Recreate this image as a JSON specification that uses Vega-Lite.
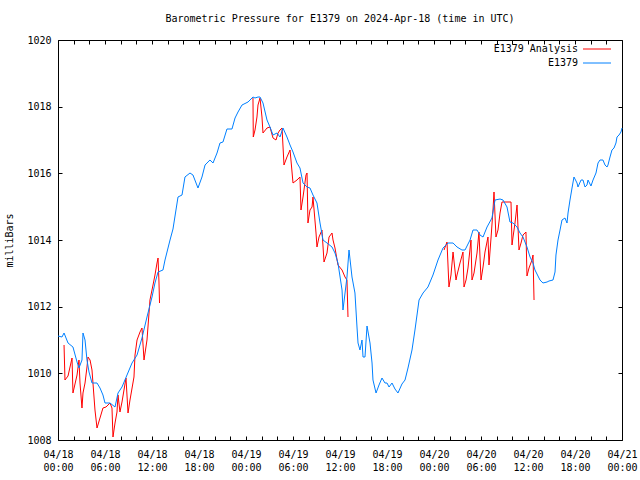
{
  "$schema": "https://vega.github.io/schema/vega-lite/v6.json",
  "width": 564,
  "height": 400,
  "autosize": {"type": "none"},
  "padding": {"left": 58, "top": 40, "right": 18, "bottom": 40},
  "title": {"text": "Barometric Pressure for E1379 on 2024-Apr-18 (time in UTC)", "font": "DejaVu Sans Mono", "fontSize": 10, "fontWeight": "normal", "anchor": "middle", "frame": "group", "offset": 11, "color": "black"},
  "config": {
    "view": {"stroke": "black", "strokeWidth": 1},
    "font": "DejaVu Sans Mono",
    "axis": {"labelFont": "DejaVu Sans Mono", "labelFontSize": 10, "labelColor": "black", "titleFont": "DejaVu Sans Mono", "titleFontSize": 10, "titleFontWeight": "normal", "titleColor": "black", "grid": false, "domain": false, "tickColor": "black", "tickWidth": 1, "tickSize": -4, "labelFlush": false}
  },
  "datasets": {
    "obs": [
      {"t":0,"p":1011.12,"series":"E1379"},{"t":0.51,"p":1011.09,"series":"E1379"},{"t":0.77,"p":1011.21,"series":"E1379"},{"t":1.28,"p":1010.91,"series":"E1379"},{"t":1.91,"p":1010.79,"series":"E1379"},{"t":2.43,"p":1010.34,"series":"E1379"},{"t":2.68,"p":1010.16,"series":"E1379"},{"t":3.06,"p":1010.40,"series":"E1379"},{"t":3.19,"p":1011.21,"series":"E1379"},{"t":3.45,"p":1011.00,"series":"E1379"},{"t":3.70,"p":1010.40,"series":"E1379"},{"t":3.96,"p":1010.04,"series":"E1379"},{"t":4.34,"p":1009.71,"series":"E1379"},{"t":4.98,"p":1009.71,"series":"E1379"},{"t":5.36,"p":1009.56,"series":"E1379"},{"t":5.74,"p":1009.35,"series":"E1379"},{"t":6.00,"p":1009.11,"series":"E1379"},{"t":6.64,"p":1009.11,"series":"E1379"},{"t":7.28,"p":1008.99,"series":"E1379"},{"t":7.66,"p":1009.41,"series":"E1379"},{"t":8.17,"p":1009.59,"series":"E1379"},{"t":8.81,"p":1009.95,"series":"E1379"},{"t":9.45,"p":1010.31,"series":"E1379"},{"t":10.09,"p":1010.55,"series":"E1379"},{"t":10.72,"p":1011.06,"series":"E1379"},{"t":11.36,"p":1011.69,"series":"E1379"},{"t":12.00,"p":1012.29,"series":"E1379"},{"t":12.38,"p":1012.71,"series":"E1379"},{"t":12.77,"p":1013.04,"series":"E1379"},{"t":13.40,"p":1013.10,"series":"E1379"},{"t":13.66,"p":1013.40,"series":"E1379"},{"t":14.30,"p":1014.00,"series":"E1379"},{"t":14.68,"p":1014.33,"series":"E1379"},{"t":15.32,"p":1015.29,"series":"E1379"},{"t":15.83,"p":1015.35,"series":"E1379"},{"t":16.21,"p":1015.89,"series":"E1379"},{"t":16.85,"p":1016.01,"series":"E1379"},{"t":17.23,"p":1015.95,"series":"E1379"},{"t":17.87,"p":1015.56,"series":"E1379"},{"t":18.38,"p":1015.89,"series":"E1379"},{"t":18.77,"p":1016.25,"series":"E1379"},{"t":19.40,"p":1016.40,"series":"E1379"},{"t":19.79,"p":1016.31,"series":"E1379"},{"t":20.30,"p":1016.61,"series":"E1379"},{"t":20.68,"p":1016.91,"series":"E1379"},{"t":21.06,"p":1016.94,"series":"E1379"},{"t":21.57,"p":1017.33,"series":"E1379"},{"t":22.21,"p":1017.33,"series":"E1379"},{"t":22.60,"p":1017.66,"series":"E1379"},{"t":22.98,"p":1017.84,"series":"E1379"},{"t":23.49,"p":1018.05,"series":"E1379"},{"t":24.26,"p":1018.14,"series":"E1379"},{"t":24.89,"p":1018.29,"series":"E1379"},{"t":25.15,"p":1018.26,"series":"E1379"},{"t":25.53,"p":1018.29,"series":"E1379"},{"t":25.79,"p":1018.29,"series":"E1379"},{"t":26.17,"p":1018.11,"series":"E1379"},{"t":26.68,"p":1017.60,"series":"E1379"},{"t":27.06,"p":1017.39,"series":"E1379"},{"t":27.45,"p":1017.15,"series":"E1379"},{"t":27.96,"p":1017.21,"series":"E1379"},{"t":28.34,"p":1017.09,"series":"E1379"},{"t":28.72,"p":1017.36,"series":"E1379"},{"t":29.23,"p":1017.09,"series":"E1379"},{"t":29.62,"p":1016.85,"series":"E1379"},{"t":30.00,"p":1016.64,"series":"E1379"},{"t":30.51,"p":1016.31,"series":"E1379"},{"t":30.89,"p":1016.16,"series":"E1379"},{"t":31.28,"p":1015.71,"series":"E1379"},{"t":31.79,"p":1015.59,"series":"E1379"},{"t":32.17,"p":1015.56,"series":"E1379"},{"t":32.55,"p":1015.35,"series":"E1379"},{"t":33.06,"p":1015.11,"series":"E1379"},{"t":33.45,"p":1014.51,"series":"E1379"},{"t":33.83,"p":1014.00,"series":"E1379"},{"t":34.34,"p":1013.91,"series":"E1379"},{"t":34.98,"p":1013.79,"series":"E1379"},{"t":35.36,"p":1013.61,"series":"E1379"},{"t":35.74,"p":1013.31,"series":"E1379"},{"t":36.26,"p":1012.50,"series":"E1379"},{"t":36.38,"p":1011.90,"series":"E1379"},{"t":36.89,"p":1012.89,"series":"E1379"},{"t":37.15,"p":1013.70,"series":"E1379"},{"t":37.53,"p":1012.89,"series":"E1379"},{"t":37.91,"p":1012.41,"series":"E1379"},{"t":38.17,"p":1011.39,"series":"E1379"},{"t":38.30,"p":1010.91,"series":"E1379"},{"t":38.55,"p":1010.70,"series":"E1379"},{"t":38.81,"p":1011.00,"series":"E1379"},{"t":38.94,"p":1010.49,"series":"E1379"},{"t":39.19,"p":1010.49,"series":"E1379"},{"t":39.45,"p":1011.42,"series":"E1379"},{"t":39.83,"p":1010.91,"series":"E1379"},{"t":40.09,"p":1010.31,"series":"E1379"},{"t":40.21,"p":1009.80,"series":"E1379"},{"t":40.60,"p":1009.41,"series":"E1379"},{"t":40.98,"p":1009.65,"series":"E1379"},{"t":41.36,"p":1009.86,"series":"E1379"},{"t":41.74,"p":1009.71,"series":"E1379"},{"t":42.00,"p":1009.71,"series":"E1379"},{"t":42.26,"p":1009.59,"series":"E1379"},{"t":42.64,"p":1009.71,"series":"E1379"},{"t":43.02,"p":1009.53,"series":"E1379"},{"t":43.40,"p":1009.41,"series":"E1379"},{"t":43.91,"p":1009.68,"series":"E1379"},{"t":44.30,"p":1009.80,"series":"E1379"},{"t":44.68,"p":1010.16,"series":"E1379"},{"t":45.19,"p":1010.70,"series":"E1379"},{"t":45.57,"p":1011.30,"series":"E1379"},{"t":45.83,"p":1011.75,"series":"E1379"},{"t":46.09,"p":1012.20,"series":"E1379"},{"t":46.60,"p":1012.41,"series":"E1379"},{"t":47.23,"p":1012.59,"series":"E1379"},{"t":47.87,"p":1012.95,"series":"E1379"},{"t":48.51,"p":1013.40,"series":"E1379"},{"t":49.15,"p":1013.76,"series":"E1379"},{"t":49.79,"p":1013.91,"series":"E1379"},{"t":50.43,"p":1013.91,"series":"E1379"},{"t":50.94,"p":1013.79,"series":"E1379"},{"t":51.57,"p":1013.70,"series":"E1379"},{"t":51.96,"p":1013.70,"series":"E1379"},{"t":52.60,"p":1014.00,"series":"E1379"},{"t":52.98,"p":1014.30,"series":"E1379"},{"t":53.49,"p":1014.30,"series":"E1379"},{"t":53.87,"p":1014.15,"series":"E1379"},{"t":54.26,"p":1014.09,"series":"E1379"},{"t":54.77,"p":1014.39,"series":"E1379"},{"t":55.40,"p":1014.66,"series":"E1379"},{"t":55.79,"p":1015.20,"series":"E1379"},{"t":56.43,"p":1015.23,"series":"E1379"},{"t":56.81,"p":1015.20,"series":"E1379"},{"t":57.32,"p":1014.99,"series":"E1379"},{"t":57.70,"p":1014.54,"series":"E1379"},{"t":58.09,"p":1014.51,"series":"E1379"},{"t":58.60,"p":1014.39,"series":"E1379"},{"t":58.98,"p":1014.21,"series":"E1379"},{"t":59.36,"p":1014.09,"series":"E1379"},{"t":59.87,"p":1013.79,"series":"E1379"},{"t":60.26,"p":1013.49,"series":"E1379"},{"t":60.64,"p":1013.31,"series":"E1379"},{"t":60.89,"p":1013.10,"series":"E1379"},{"t":61.53,"p":1012.80,"series":"E1379"},{"t":61.91,"p":1012.71,"series":"E1379"},{"t":62.43,"p":1012.74,"series":"E1379"},{"t":62.68,"p":1012.77,"series":"E1379"},{"t":63.19,"p":1012.80,"series":"E1379"},{"t":63.45,"p":1013.04,"series":"E1379"},{"t":63.57,"p":1013.55,"series":"E1379"},{"t":63.83,"p":1014.00,"series":"E1379"},{"t":64.09,"p":1014.30,"series":"E1379"},{"t":64.34,"p":1014.60,"series":"E1379"},{"t":64.72,"p":1014.66,"series":"E1379"},{"t":64.98,"p":1014.51,"series":"E1379"},{"t":65.11,"p":1014.81,"series":"E1379"},{"t":65.36,"p":1015.20,"series":"E1379"},{"t":65.62,"p":1015.56,"series":"E1379"},{"t":65.87,"p":1015.89,"series":"E1379"},{"t":66.26,"p":1015.71,"series":"E1379"},{"t":66.38,"p":1015.59,"series":"E1379"},{"t":66.77,"p":1015.80,"series":"E1379"},{"t":67.02,"p":1015.80,"series":"E1379"},{"t":67.28,"p":1015.59,"series":"E1379"},{"t":67.53,"p":1015.65,"series":"E1379"},{"t":67.66,"p":1015.80,"series":"E1379"},{"t":68.04,"p":1015.62,"series":"E1379"},{"t":68.30,"p":1015.80,"series":"E1379"},{"t":68.68,"p":1016.01,"series":"E1379"},{"t":68.94,"p":1016.31,"series":"E1379"},{"t":69.19,"p":1016.40,"series":"E1379"},{"t":69.57,"p":1016.40,"series":"E1379"},{"t":69.83,"p":1016.25,"series":"E1379"},{"t":70.09,"p":1016.19,"series":"E1379"},{"t":70.21,"p":1016.25,"series":"E1379"},{"t":70.47,"p":1016.49,"series":"E1379"},{"t":70.72,"p":1016.70,"series":"E1379"},{"t":70.98,"p":1016.76,"series":"E1379"},{"t":71.23,"p":1016.91,"series":"E1379"},{"t":71.36,"p":1017.09,"series":"E1379"},{"t":71.62,"p":1017.15,"series":"E1379"},{"t":71.87,"p":1017.24,"series":"E1379"},{"t":72.0,"p":1017.36,"series":"E1379"}
    ],
    "ana": [
      {"t":0.77,"p":1010.85,"seg":1},{"t":0.89,"p":1009.80,"seg":1},{"t":1.28,"p":1009.92,"seg":1},{"t":1.79,"p":1010.46,"seg":1},{"t":1.91,"p":1009.41,"seg":1},{"t":2.43,"p":1009.95,"seg":1},{"t":2.68,"p":1010.40,"seg":1},{"t":2.81,"p":1009.71,"seg":1},{"t":3.06,"p":1008.96,"seg":1},{"t":3.19,"p":1009.41,"seg":1},{"t":3.45,"p":1009.71,"seg":1},{"t":3.70,"p":1010.19,"seg":1},{"t":3.83,"p":1010.49,"seg":1},{"t":4.09,"p":1010.40,"seg":1},{"t":4.34,"p":1010.10,"seg":1},{"t":4.72,"p":1008.90,"seg":1},{"t":4.98,"p":1008.36,"seg":1},{"t":5.36,"p":1008.66,"seg":1},{"t":5.74,"p":1008.96,"seg":1},{"t":6.13,"p":1008.99,"seg":1},{"t":6.64,"p":1009.11,"seg":1},{"t":6.89,"p":1008.96,"seg":1},{"t":7.02,"p":1008.09,"seg":1},{"t":7.28,"p":1008.51,"seg":1},{"t":7.53,"p":1008.84,"seg":1},{"t":7.66,"p":1009.35,"seg":1},{"t":7.91,"p":1008.84,"seg":1},{"t":8.17,"p":1009.14,"seg":1},{"t":8.68,"p":1009.86,"seg":1},{"t":8.94,"p":1008.81,"seg":1},{"t":9.19,"p":1009.20,"seg":1},{"t":9.70,"p":1009.89,"seg":1},{"t":9.83,"p":1010.55,"seg":1},{"t":10.09,"p":1011.00,"seg":1},{"t":10.47,"p":1011.24,"seg":1},{"t":10.72,"p":1011.36,"seg":1},{"t":10.98,"p":1010.40,"seg":1},{"t":11.36,"p":1011.00,"seg":1},{"t":11.62,"p":1011.81,"seg":1},{"t":11.74,"p":1012.20,"seg":1},{"t":12.13,"p":1012.65,"seg":1},{"t":12.38,"p":1012.95,"seg":1},{"t":12.64,"p":1013.31,"seg":1},{"t":12.77,"p":1013.46,"seg":1},{"t":12.89,"p":1012.74,"seg":1},{"t":12.96,"p":1012.11,"seg":1},
      {"t":24.89,"p":1018.26,"seg":2},{"t":24.93,"p":1017.09,"seg":2},{"t":25.15,"p":1017.30,"seg":2},{"t":25.40,"p":1017.69,"seg":2},{"t":25.53,"p":1018.05,"seg":2},{"t":25.79,"p":1018.26,"seg":2},{"t":26.04,"p":1017.69,"seg":2},{"t":26.17,"p":1017.21,"seg":2},{"t":26.68,"p":1017.36,"seg":2},{"t":27.06,"p":1017.39,"seg":2},{"t":27.45,"p":1017.06,"seg":2},{"t":27.83,"p":1017.00,"seg":2},{"t":28.09,"p":1017.21,"seg":2},{"t":28.34,"p":1017.30,"seg":2},{"t":28.60,"p":1017.36,"seg":2},{"t":28.85,"p":1016.25,"seg":2},{"t":29.23,"p":1016.49,"seg":2},{"t":29.62,"p":1016.70,"seg":2},{"t":29.74,"p":1016.40,"seg":2},{"t":30.00,"p":1015.71,"seg":2},{"t":30.51,"p":1015.80,"seg":2},{"t":30.89,"p":1015.89,"seg":2},{"t":31.02,"p":1014.90,"seg":2},{"t":31.28,"p":1015.29,"seg":2},{"t":31.66,"p":1015.95,"seg":2},{"t":31.79,"p":1016.01,"seg":2},{"t":31.91,"p":1014.51,"seg":2},{"t":32.17,"p":1014.90,"seg":2},{"t":32.43,"p":1014.99,"seg":2},{"t":32.55,"p":1015.29,"seg":2},{"t":32.94,"p":1014.21,"seg":2},{"t":33.06,"p":1013.79,"seg":2},{"t":33.32,"p":1014.09,"seg":2},{"t":33.70,"p":1014.30,"seg":2},{"t":33.96,"p":1013.34,"seg":2},{"t":34.34,"p":1013.61,"seg":2},{"t":34.60,"p":1014.09,"seg":2},{"t":34.98,"p":1014.21,"seg":2},{"t":35.11,"p":1014.00,"seg":2},{"t":35.36,"p":1013.76,"seg":2},{"t":35.74,"p":1013.25,"seg":2},{"t":36.26,"p":1013.10,"seg":2},{"t":36.64,"p":1012.89,"seg":2},{"t":36.89,"p":1012.80,"seg":2},{"t":37.02,"p":1011.69,"seg":2},
      {"t":49.28,"p":1013.70,"seg":3},{"t":49.66,"p":1013.94,"seg":3},{"t":49.91,"p":1012.59,"seg":3},{"t":50.17,"p":1012.95,"seg":3},{"t":50.43,"p":1013.64,"seg":3},{"t":50.81,"p":1012.80,"seg":3},{"t":50.94,"p":1012.95,"seg":3},{"t":51.32,"p":1013.31,"seg":3},{"t":51.70,"p":1013.64,"seg":3},{"t":51.83,"p":1012.59,"seg":3},{"t":52.09,"p":1012.80,"seg":3},{"t":52.34,"p":1013.16,"seg":3},{"t":52.72,"p":1014.00,"seg":3},{"t":52.85,"p":1012.80,"seg":3},{"t":53.11,"p":1013.01,"seg":3},{"t":53.49,"p":1013.61,"seg":3},{"t":53.74,"p":1014.24,"seg":3},{"t":54.00,"p":1012.80,"seg":3},{"t":54.26,"p":1013.19,"seg":3},{"t":54.51,"p":1013.64,"seg":3},{"t":54.89,"p":1014.09,"seg":3},{"t":55.02,"p":1013.25,"seg":3},{"t":55.28,"p":1014.06,"seg":3},{"t":55.53,"p":1014.90,"seg":3},{"t":55.66,"p":1015.44,"seg":3},{"t":55.91,"p":1014.09,"seg":3},{"t":56.17,"p":1014.30,"seg":3},{"t":56.43,"p":1014.81,"seg":3},{"t":56.68,"p":1015.14,"seg":3},{"t":57.19,"p":1015.14,"seg":3},{"t":57.83,"p":1015.14,"seg":3},{"t":57.96,"p":1013.85,"seg":3},{"t":58.09,"p":1014.09,"seg":3},{"t":58.34,"p":1014.51,"seg":3},{"t":58.60,"p":1015.05,"seg":3},{"t":58.85,"p":1013.70,"seg":3},{"t":59.11,"p":1013.91,"seg":3},{"t":59.36,"p":1014.15,"seg":3},{"t":59.74,"p":1014.24,"seg":3},{"t":59.87,"p":1012.92,"seg":3},{"t":60.13,"p":1013.16,"seg":3},{"t":60.51,"p":1013.40,"seg":3},{"t":60.64,"p":1013.55,"seg":3},{"t":60.77,"p":1012.20,"seg":3}
    ]
  },
  "resolve": {"axis": {"x": "independent", "y": "independent"}},
  "layer": [
    {
      "data": {"name": "ana"},
      "transform": [{"calculate": "'E1379 Analysis'", "as": "series"}],
      "mark": {"type": "line", "strokeWidth": 1, "interpolate": "linear"},
      "encoding": {
        "x": {"field": "t", "type": "quantitative", "scale": {"domain": [0, 72], "nice": false, "zero": false},
              "axis": {"orient": "top", "values": [0,2,4,6,8,10,12,14,16,18,20,22,24,26,28,30,32,34,36,38,40,42,44,46,48,50,52,54,56,58,60,62,64,66,68,70,72], "labels": false, "title": null}},
        "y": {"field": "p", "type": "quantitative", "scale": {"domain": [1008, 1020], "nice": false, "zero": false},
              "axis": {"orient": "right", "values": [1008,1010,1012,1014,1016,1018,1020], "labels": false, "title": null}},
        "color": {"field": "series", "type": "nominal", "sort": null,
                  "scale": {"domain": ["E1379 Analysis", "E1379"], "range": ["#ff0000", "#0080ff"]},
                  "legend": {"orient": "none", "legendX": 534, "legendY": 4, "title": null, "symbolType": "M-3.5,0H3.5", "symbolSize": 64, "symbolStrokeWidth": 1, "labelAlign": "right", "labelOffset": -24, "labelFont": "DejaVu Sans Mono", "labelFontSize": 10, "labelColor": "black", "padding": 0, "rowPadding": 4}},
        "detail": {"field": "seg", "type": "nominal"}
      }
    },
    {
      "data": {"name": "obs"},
      "mark": {"type": "line", "strokeWidth": 1, "interpolate": "linear"},
      "encoding": {
        "x": {"field": "t", "type": "quantitative",
              "axis": {"orient": "bottom", "values": [0,2,4,6,8,10,12,14,16,18,20,22,24,26,28,30,32,34,36,38,40,42,44,46,48,50,52,54,56,58,60,62,64,66,68,70,72], "labelExpr": "datum.value % 6 === 0 ? ['04/' + (18 + floor(datum.value / 24)), ((datum.value % 24) < 10 ? '0' : '') + (datum.value % 24) + ':00'] : ''", "labelOverlap": false, "labelPadding": 13, "labelLineHeight": 13, "title": null}},
        "y": {"field": "p", "type": "quantitative",
              "axis": {"orient": "left", "values": [1008,1010,1012,1014,1016,1018,1020], "format": "d", "labelPadding": 11, "title": "milliBars", "titlePadding": 12}},
        "color": {"field": "series", "type": "nominal"}
      }
    }
  ]
}
